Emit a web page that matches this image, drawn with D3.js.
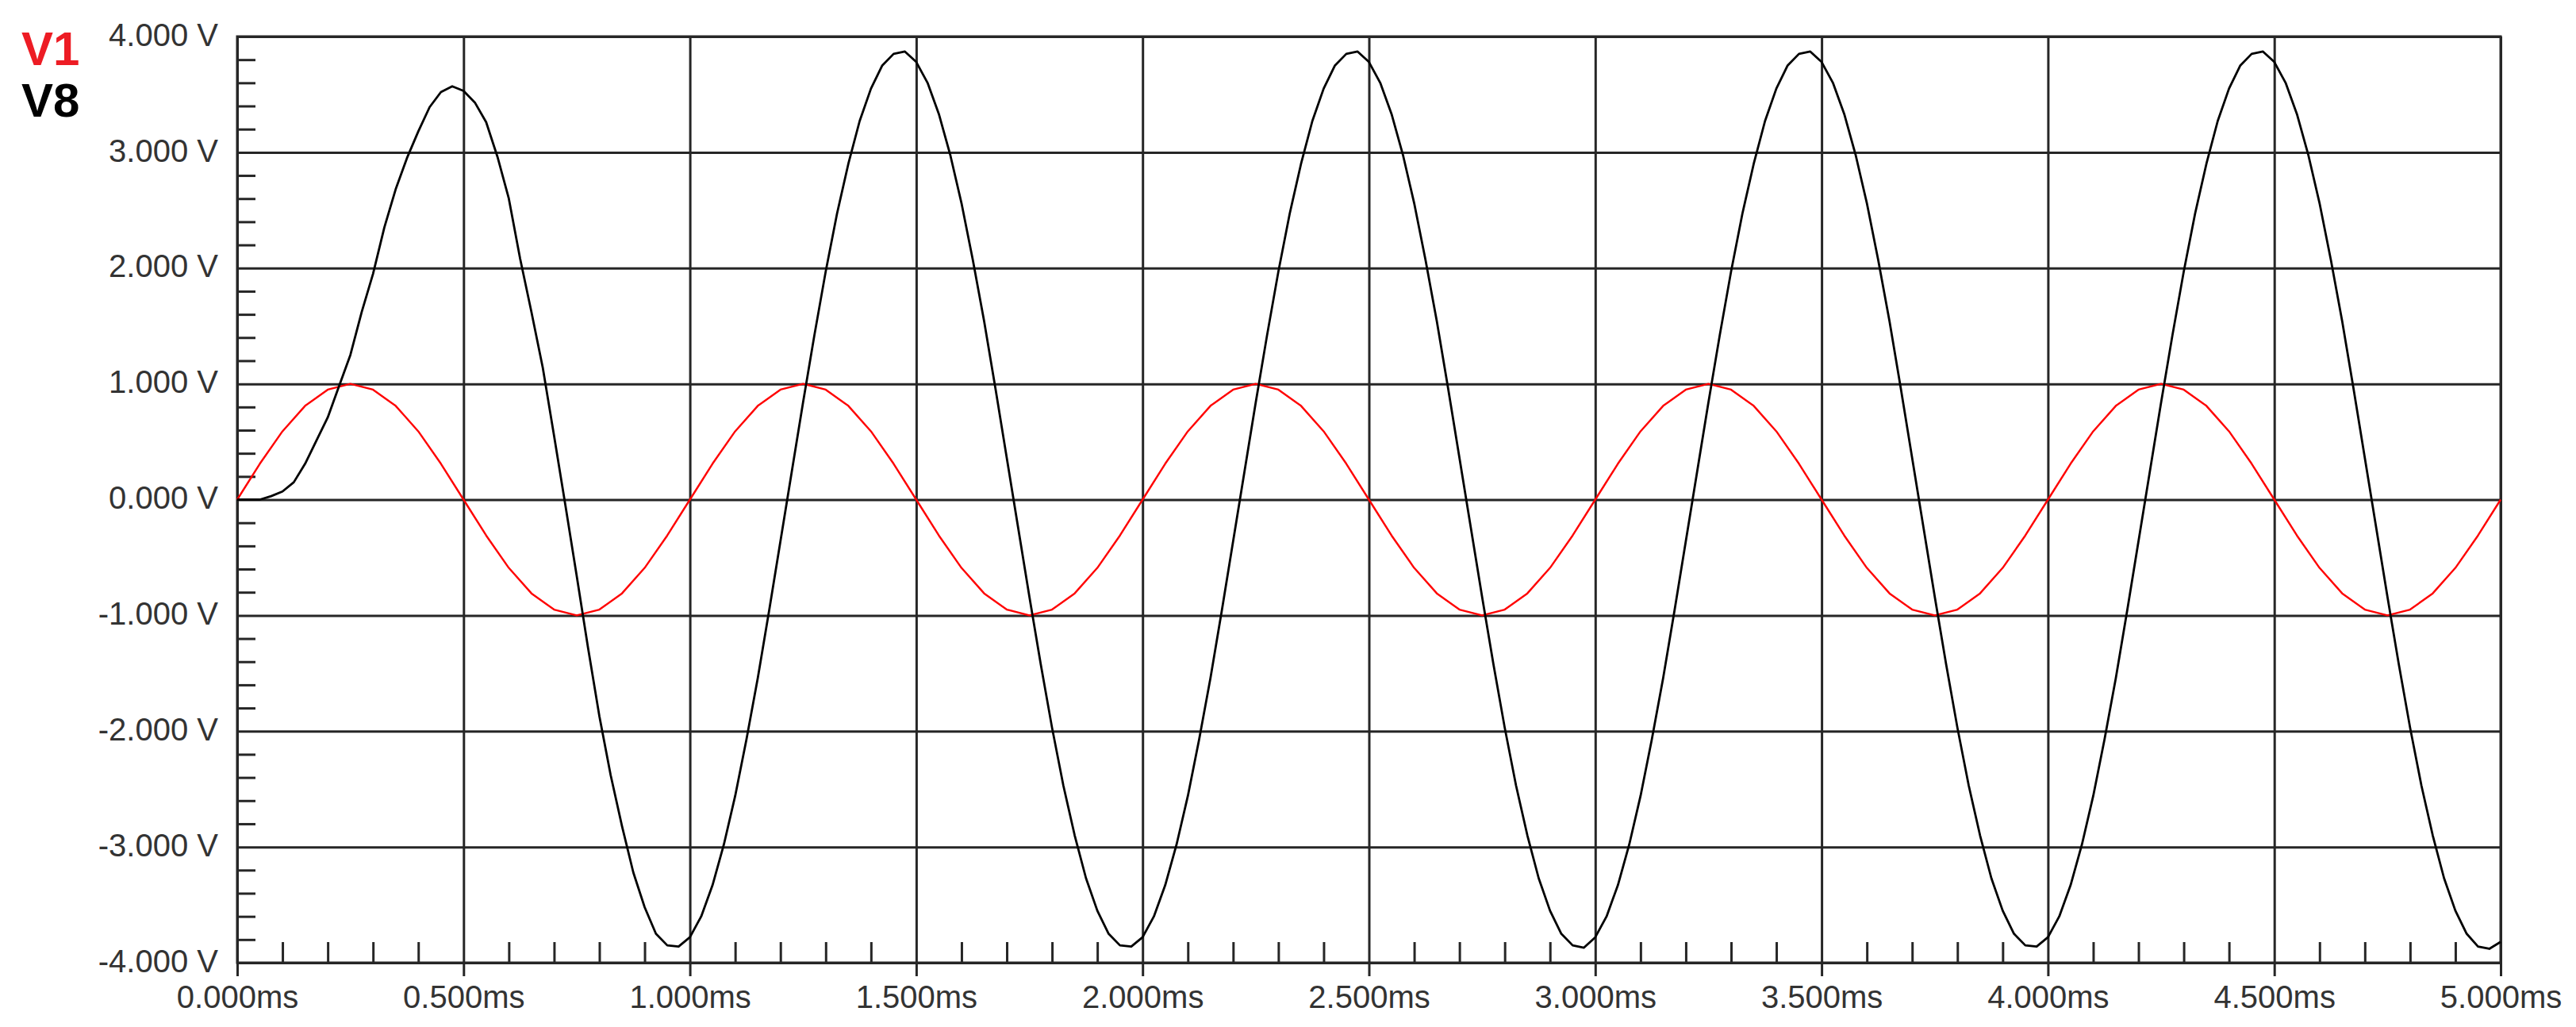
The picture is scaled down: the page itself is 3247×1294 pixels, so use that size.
<!DOCTYPE html>
<html><head><meta charset="utf-8">
<script src="https://cdn.jsdelivr.net/npm/d3@7"></script>
<style>html,body{margin:0;padding:0;background:#fff} svg{display:block}</style>
</head><body>
<svg id="chart" width="3247" height="1294"></svg>
<script>
// ---- data ----
const seriesNames = ["V1", "V8"];
const seriesColors = ["#ff0000", "#000000"];
const xTickValues = [0, 0.5, 1, 1.5, 2, 2.5, 3, 3.5, 4, 4.5, 5];
const yTickValues = [-4, -3, -2, -1, 0, 1, 2, 3, 4];
const xTickLabels = ["0.000ms", "0.500ms", "1.000ms", "1.500ms", "2.000ms", "2.500ms", "3.000ms", "3.500ms", "4.000ms", "4.500ms", "5.000ms"];
const yTickLabels = ["-4.000 V", "-3.000 V", "-2.000 V", "-1.000 V", "0.000 V", "1.000 V", "2.000 V", "3.000 V", "4.000 V"];

// V1: sampled every 0.05 ms
const v1Step = 0.05;
const v1Values = [
  0.00, 0.31, 0.59, 0.81, 0.95, 1.00, 0.95, 0.81, 0.59, 0.31, 0.00, -0.31, -0.59, -0.81, -0.95, -1.00, -0.95, -0.81, -0.59, -0.31,
  0.00, 0.31, 0.59, 0.81, 0.95, 1.00, 0.95, 0.81, 0.59, 0.31, 0.00, -0.31, -0.59, -0.81, -0.95, -1.00, -0.95, -0.81, -0.59, -0.31,
  0.00, 0.31, 0.59, 0.81, 0.95, 1.00, 0.95, 0.81, 0.59, 0.31, 0.00, -0.31, -0.59, -0.81, -0.95, -1.00, -0.95, -0.81, -0.59, -0.31,
  0.00, 0.31, 0.59, 0.81, 0.95, 1.00, 0.95, 0.81, 0.59, 0.31, 0.00, -0.31, -0.59, -0.81, -0.95, -1.00, -0.95, -0.81, -0.59, -0.31,
  0.00, 0.31, 0.59, 0.81, 0.95, 1.00, 0.95, 0.81, 0.59, 0.31, 0.00, -0.31, -0.59, -0.81, -0.95, -1.00, -0.95, -0.81, -0.59, -0.31,
  0.00
];

// V8: sampled every 0.025 ms
const v8Step = 0.025;
const v8Values = [
  0.00, 0.00, 0.00, 0.03, 0.07, 0.15, 0.31, 0.51, 0.71, 0.98, 1.25, 1.62, 1.95, 2.35, 2.68, 2.95, 3.18, 3.39, 3.52, 3.57,
  3.53, 3.43, 3.26, 2.96, 2.60, 2.08, 1.62, 1.14, 0.55, -0.05, -0.66, -1.28, -1.87, -2.38, -2.82, -3.22, -3.52, -3.75, -3.85, -3.86,
  -3.78, -3.60, -3.33, -2.98, -2.56, -2.07, -1.54, -0.96, -0.36, 0.24, 0.84, 1.42, 1.97, 2.47, 2.90, 3.27, 3.55, 3.75, 3.85, 3.87,
  3.78, 3.60, 3.33, 2.98, 2.56, 2.07, 1.54, 0.96, 0.36, -0.24, -0.84, -1.42, -1.97, -2.47, -2.90, -3.27, -3.55, -3.75, -3.85, -3.86,
  -3.78, -3.60, -3.33, -2.98, -2.56, -2.07, -1.54, -0.96, -0.36, 0.24, 0.84, 1.42, 1.97, 2.47, 2.90, 3.27, 3.55, 3.75, 3.85, 3.87,
  3.78, 3.60, 3.33, 2.98, 2.56, 2.07, 1.54, 0.96, 0.36, -0.24, -0.84, -1.42, -1.97, -2.47, -2.90, -3.27, -3.55, -3.75, -3.85, -3.87,
  -3.78, -3.60, -3.33, -2.98, -2.56, -2.07, -1.54, -0.96, -0.36, 0.24, 0.84, 1.42, 1.97, 2.47, 2.90, 3.27, 3.55, 3.75, 3.85, 3.87,
  3.78, 3.60, 3.33, 2.98, 2.56, 2.07, 1.54, 0.96, 0.36, -0.24, -0.84, -1.42, -1.97, -2.47, -2.90, -3.27, -3.55, -3.75, -3.85, -3.86,
  -3.78, -3.60, -3.33, -2.98, -2.56, -2.07, -1.54, -0.96, -0.36, 0.24, 0.84, 1.42, 1.97, 2.47, 2.90, 3.27, 3.55, 3.75, 3.85, 3.87,
  3.78, 3.60, 3.33, 2.98, 2.56, 2.07, 1.54, 0.96, 0.36, -0.24, -0.84, -1.42, -1.97, -2.47, -2.90, -3.27, -3.55, -3.75, -3.86, -3.88,
  -3.82
];

// ---- layout ----
const plotLeft = 299, plotRight = 3152, plotTop = 46, plotBottom = 1213;
const gridColor = "#262626";
const textColor = "#333333";
const font = "'Liberation Sans', Arial, sans-serif";

const svg = d3.select("#chart");
svg.append("rect").attr("width", 3247).attr("height", 1294).attr("fill", "#fff");

const x = d3.scaleLinear().domain([0, 5]).range([plotLeft, plotRight]);
const y = d3.scaleLinear().domain([-4, 4]).range([plotBottom, plotTop]);

const minorX = d3.range(0, 51).map(i => i / 10).filter(v => Math.abs(v * 2 - Math.round(v * 2)) > 1e-6);
const minorY = d3.range(-20, 21).map(i => i / 5).filter(v => Math.abs(v - Math.round(v)) > 1e-6);

function styleAxis(g) {
  g.select(".domain").remove();
  g.selectAll(".tick line").attr("stroke", gridColor).attr("stroke-width", 3);
  g.selectAll(".tick text").attr("fill", textColor).attr("font-family", font).attr("font-size", 40);
}

// horizontal grid
svg.append("g").attr("transform", `translate(${plotLeft},0)`)
  .call(d3.axisLeft(y).tickValues(yTickValues).tickSize(-(plotRight - plotLeft)).tickFormat(""))
  .call(styleAxis);

// vertical grid + ticks extending below
svg.append("g").attr("transform", `translate(0,${plotTop})`)
  .call(d3.axisBottom(x).tickValues(xTickValues).tickSize(plotBottom - plotTop + 17).tickFormat(""))
  .call(styleAxis);

// minor ticks
svg.append("g").attr("transform", `translate(${plotLeft},0)`)
  .call(d3.axisLeft(y).tickValues(minorY).tickSize(-23).tickFormat(""))
  .call(styleAxis);
svg.append("g").attr("transform", `translate(0,${plotBottom})`)
  .call(d3.axisBottom(x).tickValues(minorX).tickSize(-26).tickFormat(""))
  .call(styleAxis);

// frame
svg.append("rect")
  .attr("x", plotLeft).attr("y", plotTop)
  .attr("width", plotRight - plotLeft).attr("height", plotBottom - plotTop)
  .attr("fill", "none").attr("stroke", gridColor).attr("stroke-width", 3);

// labels
svg.append("g").attr("transform", `translate(${plotLeft},0)`)
  .call(d3.axisLeft(y).tickValues(yTickValues).tickSize(0).tickPadding(24).tickFormat((d, i) => yTickLabels[i]))
  .call(styleAxis)
  .selectAll(".tick text").attr("dy", "0.28em");
svg.append("g").attr("transform", `translate(0,${plotBottom})`)
  .call(d3.axisBottom(x).tickValues(xTickValues).tickSize(0).tickPadding(29).tickFormat((d, i) => xTickLabels[i]))
  .call(styleAxis);

// traces
const series = [
  {name: seriesNames[0], step: v1Step, values: v1Values, color: seriesColors[0], width: 2.4},
  {name: seriesNames[1], step: v8Step, values: v8Values, color: seriesColors[1], width: 2.8}
];
series.forEach(s => {
  const line = d3.line().x((d, i) => x(i * s.step)).y(d => y(d)).curve(d3.curveLinear);
  svg.append("path").datum(s.values)
    .attr("d", line).attr("fill", "none")
    .attr("stroke", s.color).attr("stroke-width", s.width)
    .attr("stroke-linejoin", "round");
});

// legend
const legendColors = ["#ED1C24", "#000000"];
svg.append("g").selectAll("text").data(seriesNames).join("text")
  .attr("x", 27).attr("y", (d, i) => 82 + i * 65)
  .attr("font-family", font).attr("font-weight", "bold").attr("font-size", 60)
  .attr("fill", (d, i) => legendColors[i])
  .text(d => d);
</script>
</body></html>
